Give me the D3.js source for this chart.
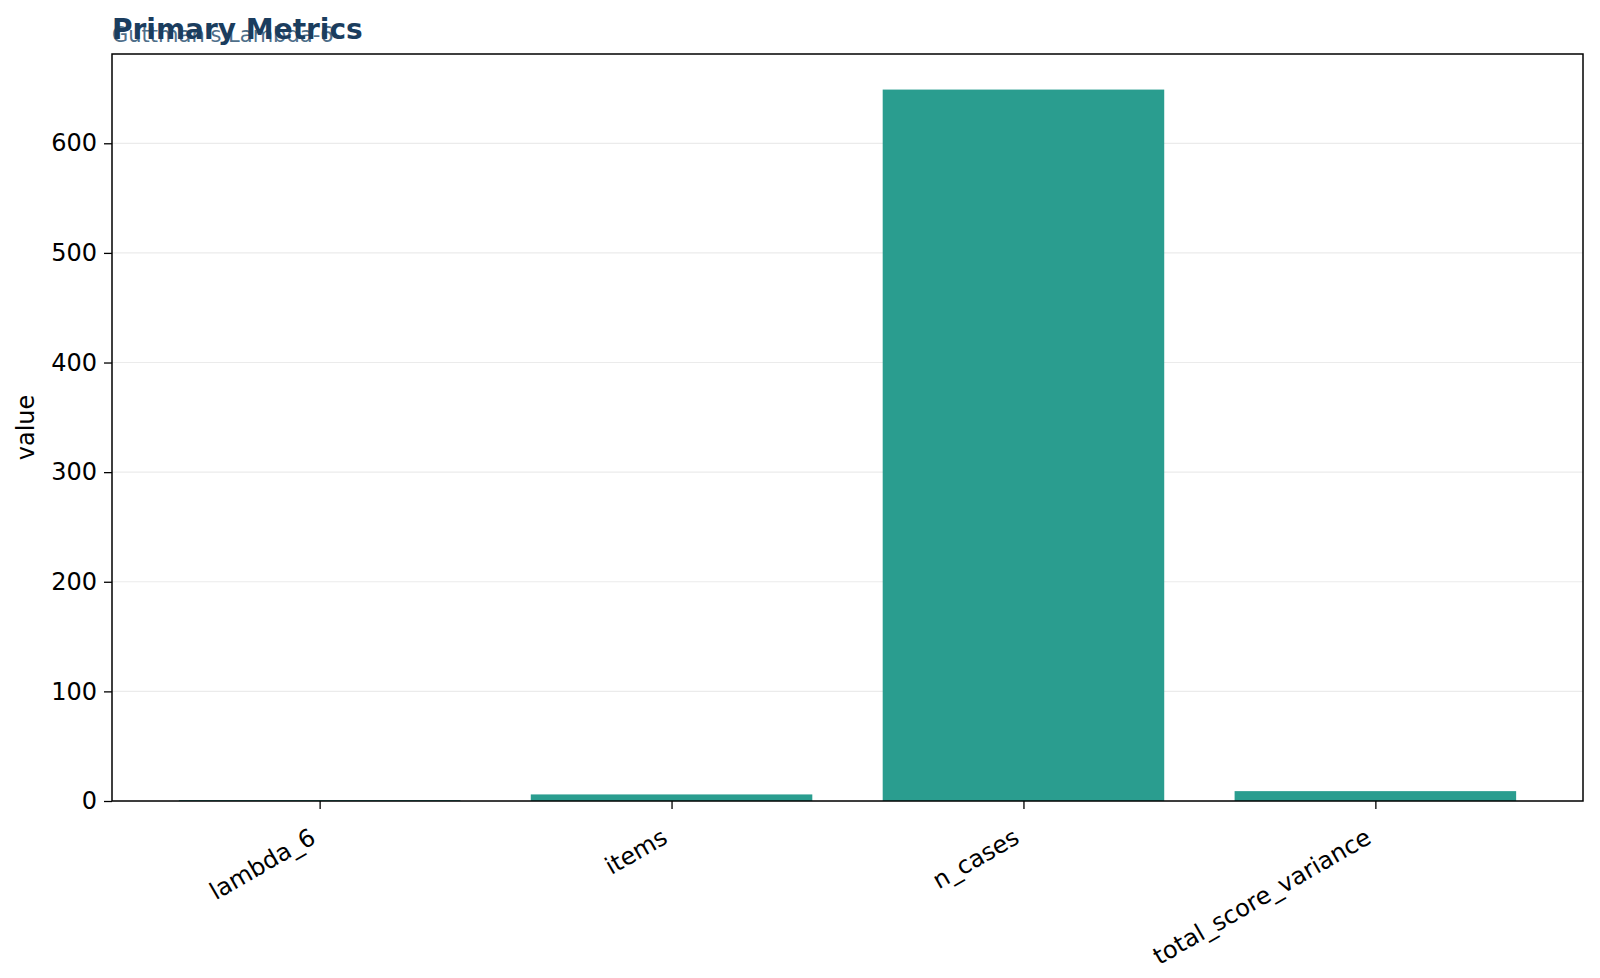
<!DOCTYPE html>
<html>
<head>
<meta charset="utf-8">
<script src="https://cdn.jsdelivr.net/npm/d3@7"></script>
<style>
  body { margin: 0; background: #fff; }
  svg, svg text { font-family: "DejaVu Sans", sans-serif; }
</style>
</head>
<body>
<div id="chart"></div>
<script>
const categories = ["lambda_6", "items", "n_cases", "total_score_variance"];
const values = [0.8, 6, 649, 9];
const yTicks = [0, 100, 200, 300, 400, 500, 600];

const W = 1600, H = 978;
const margin = { top: 54, right: 17, bottom: 177, left: 112 };
const width = W - margin.left - margin.right;
const height = H - margin.top - margin.bottom;

const svg = d3.select("#chart").append("svg")
  .attr("width", W)
  .attr("height", H);

const g = svg.append("g")
  .attr("transform", `translate(${margin.left},${margin.top})`);

// bar width 0.8, 5% padding either side
const x = d3.scaleLinear()
  .domain([-0.59, categories.length - 1 + 0.59])
  .range([0, width]);

const y = d3.scaleLinear()
  .domain([0, d3.max(values) * 1.05])
  .range([height, 0]);

// grid
g.selectAll(".grid")
  .data(yTicks)
  .enter().append("line")
  .attr("x1", 0).attr("x2", width)
  .attr("y1", d => y(d)).attr("y2", d => y(d))
  .attr("stroke", "#ebebeb")
  .attr("stroke-width", 1.2);

// bars
g.selectAll(".bar")
  .data(values)
  .enter().append("rect")
  .attr("x", (d, i) => x(i - 0.4))
  .attr("width", (d, i) => x(i + 0.4) - x(i - 0.4))
  .attr("y", d => y(d))
  .attr("height", d => y(0) - y(d))
  .attr("fill", "#2a9d8f");

// axes
const yAxis = g.append("g")
  .call(d3.axisLeft(y).tickValues(yTicks).tickSize(8).tickPadding(7));
yAxis.attr("font-family", null).attr("font-size", null);
yAxis.select(".domain").remove();
yAxis.selectAll("text").style("font-size", "24px").attr("fill", "#000");
yAxis.selectAll("line").attr("stroke", "#000").attr("stroke-width", 1.3);

const xAxis = g.append("g")
  .attr("transform", `translate(0,${height})`)
  .call(d3.axisBottom(x).tickValues(d3.range(categories.length))
    .tickFormat(i => categories[i]).tickSize(8));
xAxis.attr("font-family", null).attr("font-size", null);
xAxis.select(".domain").remove();
xAxis.selectAll("line").attr("stroke", "#000").attr("stroke-width", 1.3);
xAxis.selectAll("text")
  .style("font-size", "24px")
  .attr("fill", "#000")
  .attr("text-anchor", "end")
  .attr("dy", null)
  .attr("y", 0)
  .attr("transform", "translate(-3,41) rotate(-30)");

// frame
g.append("rect")
  .attr("width", width).attr("height", height)
  .attr("fill", "none")
  .attr("stroke", "#000")
  .attr("stroke-width", 1.5);

// y label
g.append("text")
  .attr("transform", `translate(-78,${height / 2}) rotate(-90)`)
  .attr("text-anchor", "middle")
  .style("font-size", "24px")
  .text("value");

// subtitle and title drawn on top of each other like the original
svg.append("text")
  .attr("x", 112).attr("y", 42)
  .attr("fill", "#4f6f8a")
  .style("font-size", "21px")
  .text("Guttman's Lambda-6");

svg.append("text")
  .attr("x", 112).attr("y", 39)
  .attr("fill", "#1b3d5e")
  .style("font-size", "28px")
  .style("font-weight", "bold")
  .text("Primary Metrics");
</script>
</body>
</html>
